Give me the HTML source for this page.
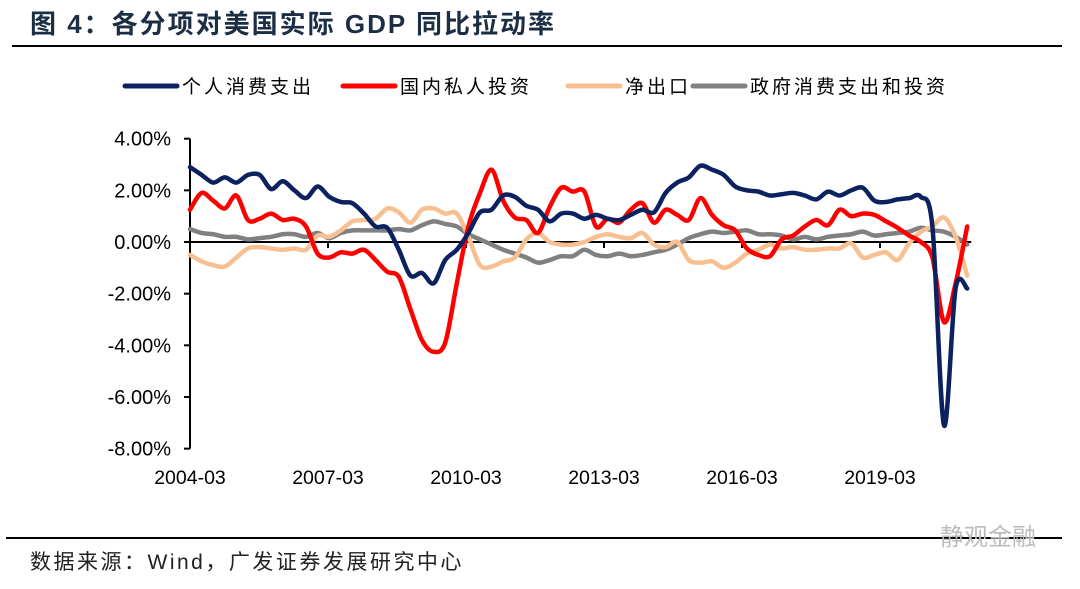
<!DOCTYPE html>
<html><head><meta charset="utf-8">
<style>
html,body{margin:0;padding:0;background:#fff;}
body{width:1080px;height:584px;position:relative;overflow:hidden;font-family:"Liberation Sans","Noto Sans CJK SC",sans-serif;}
</style></head>
<body>
<svg id="chart" width="1080" height="584" viewBox="0 0 1080 584" xmlns="http://www.w3.org/2000/svg">
  <text x="30" y="33" font-size="26" font-weight="bold" fill="#1c2e44" letter-spacing="2" font-family="Liberation Sans, Noto Sans CJK SC, sans-serif">图 4：各分项对美国实际 GDP 同比拉动率</text>
  <line x1="12" y1="46" x2="1062" y2="46" stroke="#000" stroke-width="2"/>
  <g id="legend"></g>
  <g id="axes"></g>
  <g id="series"></g>
  <line x1="6" y1="538" x2="1062" y2="538" stroke="#000" stroke-width="2"/>
  <text x="30" y="569" font-size="21" fill="#222" letter-spacing="2.5" font-family="Liberation Sans, Noto Sans CJK SC, sans-serif">数据来源：Wind，广发证券发展研究中心</text>
  <text x="940" y="545" font-size="24" fill="#bbb" font-family="Liberation Sans, Noto Sans CJK SC, sans-serif">静观金融</text>
</svg>
<script>
const xTickLabels = ["2004-03","2007-03","2010-03","2013-03","2016-03","2019-03"];
const yTicks = [4,2,0,-2,-4,-6,-8];
const seriesNames = ["个人消费支出","国内私人投资","净出口","政府消费支出和投资"];
const seriesColors = ["#0b2160","#ff0000","#f8c090","#808080"];
const pce = [2.9,2.6,2.3,2.5,2.3,2.6,2.6,2.05,2.35,2.0,1.7,2.15,1.75,1.55,1.5,1.1,0.6,0.55,-0.3,-1.3,-1.2,-1.6,-0.7,-0.3,0.35,1.15,1.25,1.8,1.75,1.4,1.25,0.8,1.1,1.1,0.9,1.05,0.9,0.85,1.05,1.25,1.15,1.9,2.3,2.5,2.95,2.8,2.6,2.15,2.0,1.95,1.8,1.85,1.9,1.8,1.65,1.95,1.8,2.0,2.1,1.6,1.55,1.65,1.7,1.75,0.6,-7.1,-1.8,-1.8];
const gpdi = [1.25,1.9,1.6,1.3,1.8,0.85,0.9,1.1,0.85,0.9,0.6,-0.45,-0.6,-0.4,-0.45,-0.3,-0.7,-1.15,-1.35,-2.6,-3.8,-4.25,-3.9,-1.6,0.6,1.9,2.8,1.6,0.95,0.85,0.35,1.35,2.1,1.95,1.95,0.6,0.9,0.75,1.25,1.5,0.75,1.25,1.05,0.85,1.7,1.05,0.65,0.45,-0.25,-0.5,-0.55,0.1,0.25,0.6,0.85,0.65,1.25,1.0,1.1,1.05,0.8,0.55,0.25,0,-0.6,-3.1,-1.6,0.6];
const netExports = [-0.5,-0.75,-0.9,-0.95,-0.6,-0.25,-0.2,-0.25,-0.3,-0.25,-0.3,0.25,0.2,0.45,0.8,0.85,0.9,1.3,1.15,0.75,1.25,1.3,1.1,1.1,0.2,-0.9,-0.95,-0.75,-0.6,0.1,0.35,0,-0.1,-0.1,0,0.2,0.3,0.2,0.15,0.35,-0.1,-0.2,0,-0.7,-0.8,-0.75,-1.0,-0.8,-0.45,-0.3,-0.1,-0.25,-0.2,-0.3,-0.3,-0.25,-0.25,-0.05,-0.6,-0.5,-0.4,-0.7,-0.05,0.4,0.6,0.95,0.2,-1.3];
const govt = [0.5,0.35,0.3,0.2,0.2,0.1,0.15,0.2,0.3,0.3,0.2,0.35,0.15,0.35,0.45,0.45,0.45,0.45,0.5,0.45,0.65,0.8,0.7,0.6,0.3,0.1,-0.1,-0.3,-0.45,-0.6,-0.8,-0.7,-0.55,-0.55,-0.3,-0.5,-0.55,-0.45,-0.55,-0.5,-0.4,-0.3,-0.1,0.15,0.3,0.4,0.35,0.4,0.45,0.3,0.3,0.25,0.1,0.2,0.1,0.2,0.25,0.3,0.4,0.25,0.3,0.35,0.4,0.55,0.45,0.4,0.2,-0.1];

const NS="http://www.w3.org/2000/svg";
const x0=190, xStep=11.6, y0=242, yPer=25.83;
function xs(i){return x0+i*xStep;}
function ys(v){return y0-v*yPer;}
function mk(tag,attrs,parent){const e=document.createElementNS(NS,tag);for(const k in attrs)e.setAttribute(k,attrs[k]);parent.appendChild(e);return e;}

const axes=document.getElementById('axes');
const yAxis=mk('line',{x1:x0,y1:ys(4),x2:x0,y2:ys(-8),stroke:'#000','stroke-width':2},axes);


yTicks.forEach(t=>{
  const tk=mk('line',{x1:x0-6,y1:ys(t),x2:x0,y2:ys(t),stroke:'#000','stroke-width':2},axes);
  
  
  const lb=mk('text',{x:x0-19,y:ys(t)+7,'text-anchor':'end','font-size':20,fill:'#000'},axes);
  lb.textContent=t.toFixed(2)+'%';
  
  
});
const xAxis=mk('line',{x1:x0,y1:y0,x2:xs(67)+4,y2:y0,stroke:'#000','stroke-width':2},axes);


xTickLabels.forEach((l,k)=>{
  const xi=x0+k*138;
  const tk=mk('line',{x1:xi,y1:y0,x2:xi,y2:y0+6,stroke:'#000','stroke-width':2},axes);
  
  
  const lb=mk('text',{x:xi,y:484,'text-anchor':'middle','font-size':19.5,fill:'#000'},axes);
  lb.textContent=l;
  
  
});

const sg=document.getElementById('series');
const data=[pce,gpdi,netExports,govt];
const names=['pce-line','investment-line','net-exports-line','government-line'];
function smooth(arr){
  const p=arr.map((v,i)=>[xs(i),ys(v)]);
  let d='M'+p[0][0]+','+p[0][1];
  for(let i=0;i<p.length-1;i++){
    const a=p[i-1]||p[i],b=p[i],c=p[i+1],e=p[i+2]||c;
    const t=0.16;
    d+=' C'+(b[0]+(c[0]-a[0])*t)+','+(b[1]+(c[1]-a[1])*t)+' '+(c[0]-(e[0]-b[0])*t)+','+(c[1]-(e[1]-b[1])*t)+' '+c[0]+','+c[1];
  }
  return d;
}
[3,2,1,0].forEach(s=>{
  const pth=mk('path',{d:smooth(data[s]),fill:'none',stroke:seriesColors[s],'stroke-width':4.5,'stroke-linejoin':'round','stroke-linecap':'round'},sg);
  
  
});

const lg=document.getElementById('legend');
const legX=[125,343,568,693];
seriesNames.forEach((n,s)=>{
  const ln=mk('line',{x1:legX[s],y1:86,x2:legX[s]+52,y2:86,stroke:seriesColors[s],'stroke-width':5,'stroke-linecap':'round'},lg);
  
  
  const tx=mk('text',{x:legX[s]+57,y:93,'font-size':19,fill:'#000','letter-spacing':'3'},lg);
  tx.textContent=n;
  
  
});
</script>
</body></html>
